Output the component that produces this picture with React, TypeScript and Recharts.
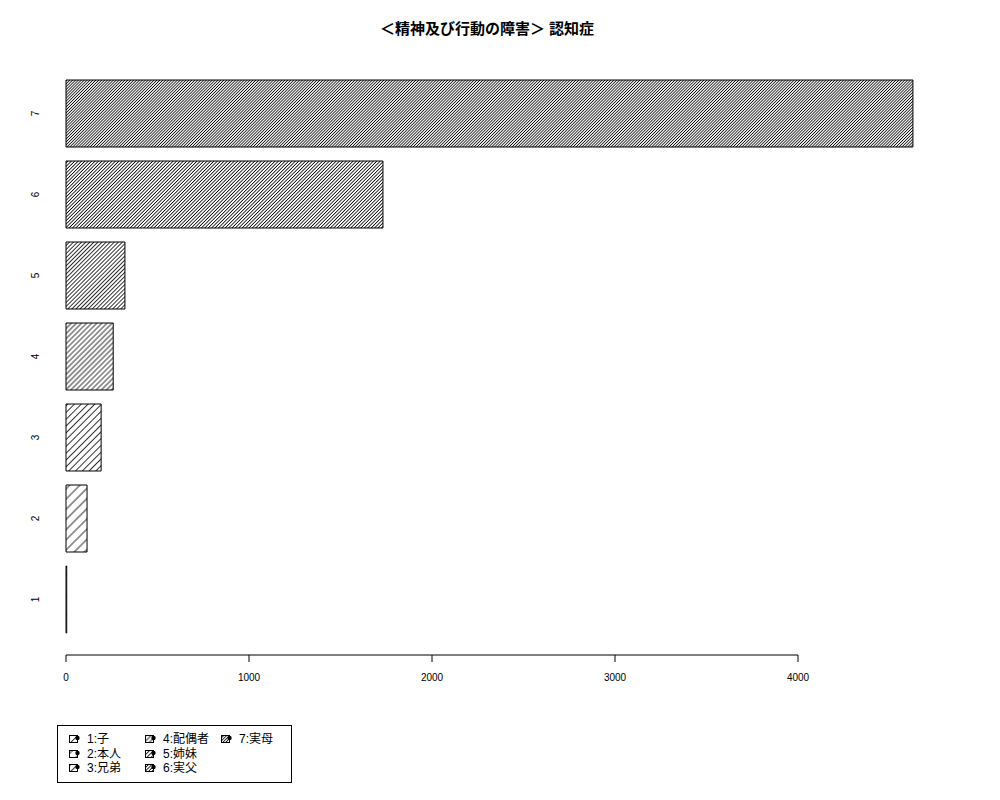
import React from 'react';
import { BarChart, Bar, XAxis, YAxis, Cell } from 'recharts';

const categories = ['1', '2', '3', '4', '5', '6', '7'];
const values = [4, 115, 192, 258, 322, 1732, 4628];
const legendLabels = ['1:子', '2:本人', '3:兄弟', '4:配偶者', '5:姉妹', '6:実父', '7:実母'];
const hatchDensity = [5, 10, 15, 20, 25, 30, 35]; // lines per inch
const xTicks = [0, 1000, 2000, 3000, 4000];
const X_MAX = 4800;
const TITLE = '＜精神及び行動の障害＞ 認知症';

const data = categories.map((c, i) => ({ name: c, value: values[i] }));
const spacing = (d: number) => 72 / d;

const FONT = '"Liberation Sans", Arial, Helvetica, sans-serif';
const CJK = '"Liberation Sans", "Noto Sans CJK JP", sans-serif';

function Hatch({ id, d }: { id: string; d: number }) {
  const p = spacing(d);
  return (
    <pattern id={id} patternUnits="userSpaceOnUse" width={p} height={p} patternTransform="rotate(45)">
      <rect x={0} y={0} width={p} height={p} fill="#fff" />
      <line x1={p / 2} y1={0} x2={p / 2} y2={p} stroke="#000" strokeWidth={0.8} />
    </pattern>
  );
}

const XTick = (props: any) => {
  const { x, y, payload, index, width } = props;
  const step = (width * 1000) / X_MAX;
  return (
    <g>
      {index > 0 && <line x1={x - step} x2={x} y1={y} y2={y} stroke="#000" strokeWidth={1} />}
      <line x1={x} x2={x} y1={y} y2={y + 7} stroke="#000" strokeWidth={1} />
      <text x={x} y={y + 26} textAnchor="middle" fontSize={10} fontFamily={FONT} fill="#000">
        {payload.value}
      </text>
    </g>
  );
};

const YTick = (props: any) => {
  const { x, y, payload } = props;
  const tx = x - 27;
  return (
    <text
      x={tx}
      y={y}
      transform={`rotate(-90 ${tx} ${y})`}
      textAnchor="middle"
      fontSize={10}
      fontFamily={FONT}
      fill="#000"
    >
      {payload.value}
    </text>
  );
};

function LegendIcon({ i }: { i: number }) {
  const id = `lg${i}`;
  return (
    <svg width={11} height={10} style={{ display: 'block' }}>
      <defs>
        <Hatch id={id} d={hatchDensity[i]} />
      </defs>
      <rect x={0.5} y={1.5} width={8} height={7} fill={`url(#${id})`} stroke="#000" strokeWidth={1} />
      <circle cx={8.5} cy={4} r={2.2} fill="#000" />
    </svg>
  );
}

const legendCols = [
  [0, 1, 2],
  [3, 4, 5],
  [6],
];
const colX = [11, 87, 163];

export default function App() {
  return (
    <div style={{ position: 'absolute', left: 0, top: 0, width: 1000, height: 800, background: '#fff' }}>
      <div
        style={{
          position: 'absolute',
          left: 0,
          width: 974,
          top: 19,
          textAlign: 'center',
          fontFamily: CJK,
          fontWeight: 'bold',
          fontSize: 15,
          lineHeight: '20px',
          color: '#000',
        }}
      >
        {TITLE}
      </div>
      <BarChart
        width={1000}
        height={800}
        data={data}
        layout="vertical"
        margin={{ top: 58, right: 55.6, bottom: 115, left: 36 }}
        barCategoryGap={7}
      >
        <defs>
          {hatchDensity.map((d, i) => (
            <Hatch key={i} id={`h${i}`} d={d} />
          ))}
        </defs>
        <XAxis
          type="number"
          domain={[0, X_MAX]}
          ticks={xTicks}
          axisLine={false}
          tickLine={false}
          tickSize={0}
          tickMargin={0}
          height={30}
          interval={0}
          tick={<XTick />}
        />
        <YAxis
          type="category"
          dataKey="name"
          reversed
          width={30}
          axisLine={false}
          tickLine={false}
          tickSize={0}
          tickMargin={0}
          padding={{ top: 15, bottom: 15 }}
          interval={0}
          tick={<YTick />}
        />
        <Bar dataKey="value" isAnimationActive={false} stroke="#000" strokeWidth={1}>
          {data.map((_, i) => (
            <Cell key={i} fill={`url(#h${i})`} />
          ))}
        </Bar>
      </BarChart>
      <div
        style={{
          position: 'absolute',
          left: 57,
          top: 725,
          width: 233,
          height: 56,
          border: '1px solid #000',
          fontFamily: CJK,
          fontSize: 12,
          color: '#000',
        }}
      >
        {legendCols.map((col, ci) =>
          col.map((idx, ri) => (
            <div
              key={idx}
              style={{
                position: 'absolute',
                left: colX[ci],
                top: 6 + ri * 14.5,
                display: 'flex',
                alignItems: 'center',
                height: 14,
                lineHeight: '14px',
                whiteSpace: 'nowrap',
              }}
            >
              <LegendIcon i={idx} />
              <span style={{ marginLeft: 7 }}>{legendLabels[idx]}</span>
            </div>
          ))
        )}
      </div>
    </div>
  );
}
